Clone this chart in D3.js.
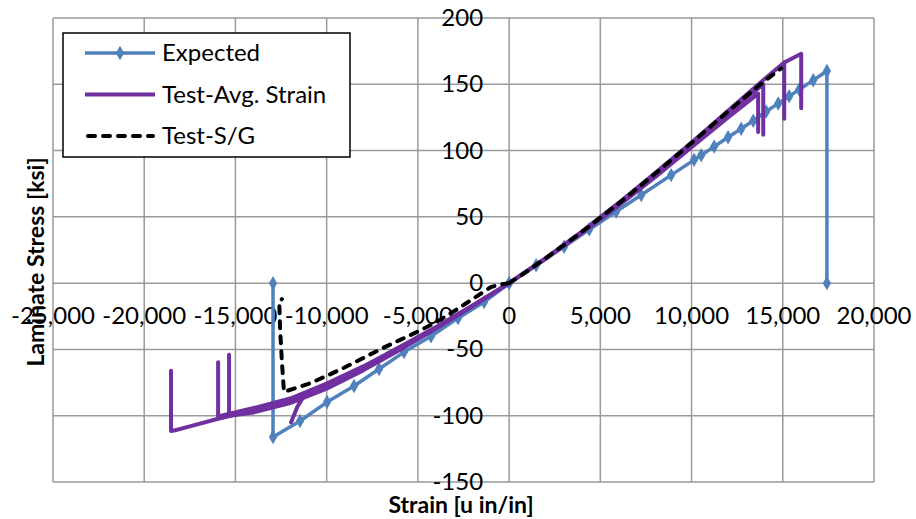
<!DOCTYPE html>
<html>
<head>
<meta charset="utf-8">
<script src="https://d3js.org/d3.v7.min.js"></script>
<style>
    body { margin: 0; background: #fff; }
    text { font-family: Lato, "Open Sans", sans-serif; fill: #000; }
</style>
</head>
<body>
<div id="chart"></div>
<script>

// ************** chart values ***************************************
var xTicks = [-25000, -20000, -15000, -10000, -5000, 0, 5000, 10000, 15000, 20000];
var yTicks = [-150, -100, -50, 0, 50, 100, 150, 200];

// Expected  [strain, stress]
var expectedPos = [[0, 0], [1480, 13.5], [3015, 27.5], [4390, 40.5], [5870, 54], [7240, 66.5],
    [8880, 81.5], [10140, 93], [10530, 96.5], [11240, 103], [12000, 110], [12720, 116.5],
    [13380, 122.5], [14090, 129.5], [14750, 135.5], [15350, 141], [15900, 146], [16670, 153],
    [17420, 160], [17420, 0]];
var expectedNeg = [[0, 0], [-1370, -14.3], [-2800, -26.4], [-4280, -40], [-5760, -52], [-7130, -64.8],
    [-8500, -77.6], [-9980, -89.7], [-11460, -104], [-12940, -116], [-12940, 0]];

// Test-Avg. Strain, one run per specimen
var avgPos1 = [[0, 0], [2000, 18.4], [4000, 38], [6000, 58.5], [8000, 80], [10000, 102.5], [12000, 125], [13650, 143], [13650, 114]];
var avgPos2 = [[0, 0], [2000, 18.6], [4000, 38.5], [6000, 59.5], [8000, 81.5], [10000, 104.5], [12000, 128], [13930, 150], [13930, 112]];
var avgPos3 = [[0, 0], [2000, 18.8], [4000, 39], [6000, 60.5], [8000, 83], [10000, 106], [12000, 130], [14000, 154], [15080, 166.5], [15080, 124]];
var avgPos4 = [[15080, 166.5], [16010, 173], [16010, 132]];
var avgNeg1 = [[0, 0], [-2000, -17], [-4000, -33.5], [-6000, -49], [-8000, -64], [-10000, -77], [-11240, -85], [-11600, -93], [-11950, -105]];
var avgNeg2 = [[0, 0], [-2000, -17.4], [-4000, -34.2], [-6000, -50.4], [-8000, -65.8], [-10000, -79.6], [-12000, -90.5], [-14000, -97.5], [-15350, -100], [-15350, -54]];
var avgNeg3 = [[0, 0], [-2000, -16.8], [-4000, -33], [-6000, -48.2], [-8000, -62.8], [-10000, -75.8], [-12000, -87], [-14000, -94.2], [-15950, -100.5], [-15950, -59.6]];
var avgNeg4 = [[-8000, -64.3], [-10000, -77.7], [-12000, -88.8], [-14000, -96], [-16000, -102.5], [-17500, -108], [-18300, -111], [-18530, -111.5], [-18530, -66]];

// Test-S/G
var sgPos = [[0, 0], [1000, 9], [2000, 18.7], [4000, 38.8], [6000, 60], [8000, 82.5], [10000, 105.8], [12000, 129.5], [14000, 152.5], [14910, 162]];
var sgNeg = [[0, 0], [-500, -1], [-1000, -3], [-2000, -12], [-3000, -21], [-4000, -29.5], [-5000, -36.5], [-6000, -43],
    [-7000, -49.5], [-8000, -56.5], [-9000, -63.5], [-10000, -70], [-11000, -76], [-12340, -82], [-12450, -60],
    [-12550, -35], [-12600, -14], [-12450, -12]];

var seriesNames = ["Expected", "Test-Avg. Strain", "Test-S/G"];
var colors = ["#4f81bd", "#7030a0", "#000"];


// ************** layout *****************
var width = 916, height = 519;

var svg = d3.select("#chart").append("svg")
    .attr("width", width)
    .attr("height", height);

var x = d3.scaleLinear().domain([-25000, 20000]).range([53, 874]);
var y = d3.scaleLinear().domain([-150, 200]).range([482, 18]);

// Excel style: plain hyphen for negatives
var fmt = function(d) { return d3.format(",")(d).replace("\u2212", "-"); };

// gridlines
svg.append("g").selectAll("line.v")
    .data(xTicks).enter().append("line")
    .attr("x1", function(d) { return x(d); })
    .attr("x2", function(d) { return x(d); })
    .attr("y1", y(200)).attr("y2", y(-150))
    .attr("stroke", "#9a9a9a").attr("stroke-width", 1.5);

svg.append("g").selectAll("line.h")
    .data(yTicks).enter().append("line")
    .attr("x1", x(-25000)).attr("x2", x(20000))
    .attr("y1", function(d) { return y(d); })
    .attr("y2", function(d) { return y(d); })
    .attr("stroke", "#9a9a9a").attr("stroke-width", 1.5);

// tick labels (axes cross at 0,0)
svg.append("g").selectAll("text")
    .data(xTicks).enter().append("text")
    .attr("x", function(d) { return x(d); })
    .attr("y", y(0) + 41)
    .attr("text-anchor", "middle")
    .style("font-size", "24px")
    .text(function(d) { return fmt(d); });

svg.append("g").selectAll("text")
    .data(yTicks).enter().append("text")
    .attr("x", x(0) - 26)
    .attr("y", function(d) { return y(d) + 8; })
    .attr("text-anchor", "end")
    .style("font-size", "24px")
    .text(function(d) { return fmt(d); });

// axis titles
svg.append("text")
    .attr("x", 461).attr("y", 513)
    .attr("text-anchor", "middle")
    .style("font-size", "23px").style("font-weight", "bold")
    .text("Strain [u in/in]");

svg.append("text")
    .attr("transform", "translate(44,262) rotate(-90)")
    .attr("text-anchor", "middle")
    .style("font-size", "23px").style("font-weight", "bold")
    .text("Laminate Stress [ksi]");

// ************** series *****************
var line = d3.line()
    .x(function(d) { return x(d[0]); })
    .y(function(d) { return y(d[1]); });

var diamond = d3.symbol().type(d3.symbolDiamond).size(60);

[expectedPos, expectedNeg].forEach(function(s) {
    svg.append("path").attr("d", line(s))
        .attr("fill", "none").attr("stroke", colors[0])
        .attr("stroke-width", 3.5).attr("stroke-linejoin", "round");
    svg.append("g").selectAll("path")
        .data(s).enter().append("path")
        .attr("d", diamond)
        .attr("transform", function(d) { return "translate(" + x(d[0]) + "," + y(d[1]) + ")"; })
        .attr("fill", colors[0]);
});

[avgPos1, avgPos2, avgPos3, avgPos4, avgNeg1, avgNeg2, avgNeg3, avgNeg4].forEach(function(s) {
    svg.append("path").attr("d", line(s))
        .attr("fill", "none").attr("stroke", colors[1])
        .attr("stroke-width", 4).attr("stroke-linejoin", "round").attr("stroke-linecap", "round");
});

[sgPos, sgNeg].forEach(function(s) {
    svg.append("path").attr("d", line(s))
        .attr("fill", "none").attr("stroke", colors[2])
        .attr("stroke-width", 4).attr("stroke-dasharray", "7,8")
        .attr("stroke-linecap", "round");
});

// ************** legend *****************
var legend = svg.append("g").attr("transform", "translate(63,33)");
legend.append("rect")
    .attr("width", 287).attr("height", 124)
    .attr("fill", "#fff").attr("stroke", "#000").attr("stroke-width", 1.5);

seriesNames.forEach(function(name, i) {
    var ly = 20 + i * 41.5;
    var l = legend.append("line")
        .attr("x1", 22).attr("x2", 92)
        .attr("y1", ly).attr("y2", ly)
        .attr("stroke", colors[i]).attr("stroke-width", i == 1 ? 4 : 3.5);
    if (i == 2) l.attr("stroke-width", 4).attr("stroke-dasharray", "7,8").attr("stroke-linecap", "round")
        .attr("x1", 25).attr("x2", 90);
    if (i == 0) {
        legend.append("path").attr("d", diamond)
            .attr("transform", "translate(57," + ly + ")")
            .attr("fill", colors[0]);
    }
    legend.append("text")
        .attr("x", 99).attr("y", ly + 8)
        .style("font-size", "24px")
        .text(name);
});
</script>
</body>
</html>
